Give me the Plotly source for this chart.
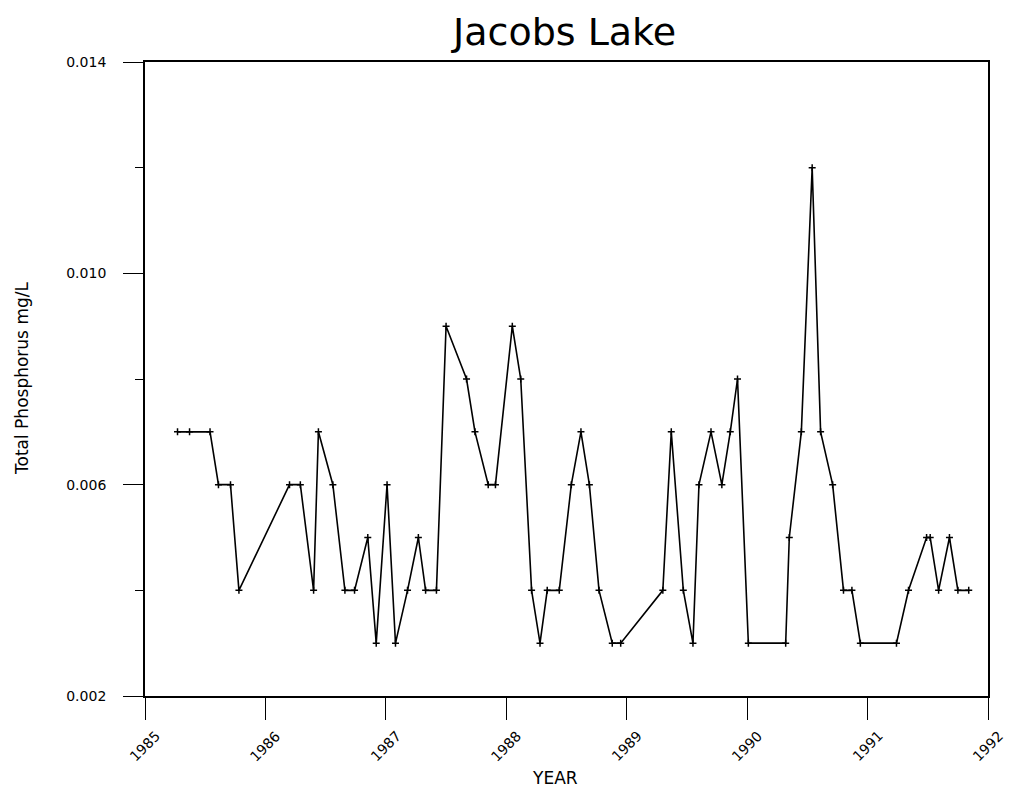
import plotly.graph_objects as go

years = [1985.27, 1985.37, 1985.54, 1985.61, 1985.71, 1985.78, 1986.20, 1986.29,
         1986.40, 1986.44, 1986.56, 1986.66, 1986.74, 1986.85, 1986.92, 1987.01,
         1987.08, 1987.18, 1987.27, 1987.33, 1987.42, 1987.50, 1987.67, 1987.74,
         1987.85, 1987.91, 1988.05, 1988.12, 1988.21, 1988.28, 1988.34, 1988.44,
         1988.54, 1988.62, 1988.69, 1988.77, 1988.88, 1988.95, 1989.30, 1989.37,
         1989.47, 1989.55, 1989.60, 1989.70, 1989.79, 1989.86, 1989.92, 1990.01,
         1990.32, 1990.35, 1990.45, 1990.54, 1990.61, 1990.71, 1990.80, 1990.87,
         1990.94, 1991.24, 1991.34, 1991.49, 1991.52, 1991.59, 1991.68, 1991.75,
         1991.84]
phosphorus = [0.007, 0.007, 0.007, 0.006, 0.006, 0.004, 0.006, 0.006,
              0.004, 0.007, 0.006, 0.004, 0.004, 0.005, 0.003, 0.006,
              0.003, 0.004, 0.005, 0.004, 0.004, 0.009, 0.008, 0.007,
              0.006, 0.006, 0.009, 0.008, 0.004, 0.003, 0.004, 0.004,
              0.006, 0.007, 0.006, 0.004, 0.003, 0.003, 0.004, 0.007,
              0.004, 0.003, 0.006, 0.007, 0.006, 0.007, 0.008, 0.003,
              0.003, 0.005, 0.007, 0.012, 0.007, 0.006, 0.004, 0.004,
              0.003, 0.003, 0.004, 0.005, 0.005, 0.004, 0.005, 0.004,
              0.004]

x_ticks = [1985, 1986, 1987, 1988, 1989, 1990, 1991, 1992]
y_ticks = [0.002, 0.006, 0.010, 0.014]
y_minor = [0.004, 0.008, 0.012]
title_text = "Jacobs Lake"

fig = go.Figure()
fig.add_trace(go.Scatter(
    x=years, y=phosphorus, mode="lines+markers",
    line=dict(color="black", width=1.6),
    marker=dict(symbol="cross-thin", size=5, line=dict(color="black", width=1.5), color="black"),
    showlegend=False,
))

font = "Liberation Sans, Arial, sans-serif"
wide = "DejaVu Sans, sans-serif"
W, H = 1004, 783
fig.update_layout(
    width=W, height=H,
    margin=dict(l=137, r=24, t=54, b=95),
    paper_bgcolor="white", plot_bgcolor="white",
    font=dict(family=font, color="black"),
)
fig.update_xaxes(
    range=[1985, 1992], tickvals=x_ticks, showticklabels=False,
    ticks="outside", ticklen=22, tickwidth=1.2, tickcolor="black",
    showline=True, linecolor="black", linewidth=1.8, mirror=True,
    showgrid=False, zeroline=False,
)
fig.update_yaxes(
    range=[0.002, 0.014], tickvals=y_ticks, ticktext=["%.3f" % v for v in y_ticks],
    ticks="outside", ticklen=20, tickwidth=1.2, tickcolor="black",
    minor=dict(tickvals=y_minor, ticks="outside", ticklen=8, tickcolor="black", tickwidth=1.2),
    showline=True, linecolor="black", linewidth=1.8, mirror=True,
    showgrid=False, zeroline=False, ticklabelstandoff=14,
    tickfont=dict(family=wide, size=14, color="black"),
)

fig.add_annotation(x=(563 - 145) / 843, xref="paper", y=1, yref="paper", yshift=30,
                   text=title_text, showarrow=False, xanchor="center", yanchor="middle",
                   font=dict(family=wide, size=38, color="black"))

for v in x_ticks:
    fig.add_annotation(x=v, xref="x", y=0, yref="paper", yshift=-50,
                       text=str(v), textangle=-45, showarrow=False,
                       xanchor="center", yanchor="middle",
                       font=dict(family=wide, size=14, color="black"))

fig.add_annotation(x=(555 - 145) / 843, xref="paper", y=0, yref="paper", yshift=-82,
                   text="YEAR", showarrow=False, xanchor="center", yanchor="middle",
                   font=dict(family=wide, size=17, color="black"))
fig.add_annotation(x=-(145 - 22) / 843, xref="paper", y=0.5, yref="paper",
                   text="Total Phosphorus mg/L", textangle=-90, showarrow=False,
                   xanchor="center", yanchor="middle",
                   font=dict(family=wide, size=17, color="black"))

fig.write_html("out.html")
